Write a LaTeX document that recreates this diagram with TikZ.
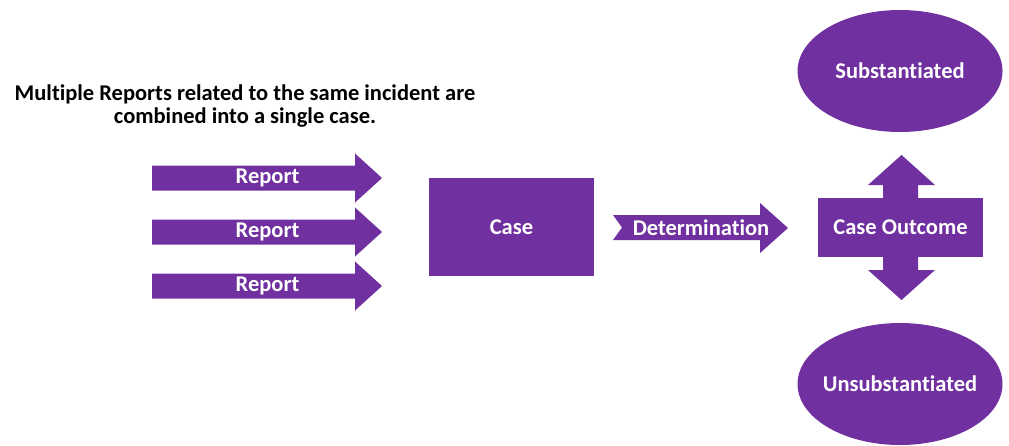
\documentclass[tikz,border=0pt]{standalone}
\usepackage{fontspec}
\setmainfont{Carlito}[Ligatures=NoCommon]
\usetikzlibrary{shapes.geometric}
\definecolor{violet}{HTML}{7030A0}

\begin{document}
\begin{tikzpicture}[x=1pt, y=-1pt, font=\bfseries\fontsize{22.5}{23}\selectfont,
  box/.style={fill=violet, text=white, inner sep=0pt},
  oval/.style={box, ellipse, minimum width=205pt, minimum height=122pt},
  lbl/.style={text=white, inner sep=0pt}]
\useasboundingbox (0,0) rectangle (1009,445);
\node[align=center] (note) at (245,106) {Multiple Reports related to the same incident are\\combined into a single case.};
% report arrows
\foreach \y/\n in {178/1, 232/2, 286/3} {
  \fill[violet] (152,\y-12.5) -- (355,\y-12.5) -- (355,\y-24.5) -- (382,\y) -- (355,\y+24.5) -- (355,\y+12.5) -- (152,\y+12.5) -- cycle;
  \node[lbl] (R\n) at (267.5,\y) {Report};
}
\node[box, minimum width=165pt, minimum height=98pt] (C) at (511.5,227) {Case};
\fill[violet] (613,215) -- (760,215) -- (760,203) -- (788,228) -- (760,253) -- (760,240) -- (613,240) -- (622,227.5) -- cycle;
\node[lbl] (D) at (701,227.5) {Determination};
\fill[violet] (883,185) -- (868,185) -- (901.5,155) -- (935,185) -- (918,185) -- (918,270) -- (935,270) -- (901.5,300) -- (868,270) -- (883,270) -- cycle;
\node[box, minimum width=165pt, minimum height=59pt] (O) at (900.5,227.5) {Case Outcome};
\node[oval] (S) at (900,71) {};
\node[lbl] (Stext) at (S) {Substantiated};
\node[oval] (U) at (900,384) {};
\node[lbl] (Utext) at (U) {Unsubstantiated};
\end{tikzpicture}
\end{document}
